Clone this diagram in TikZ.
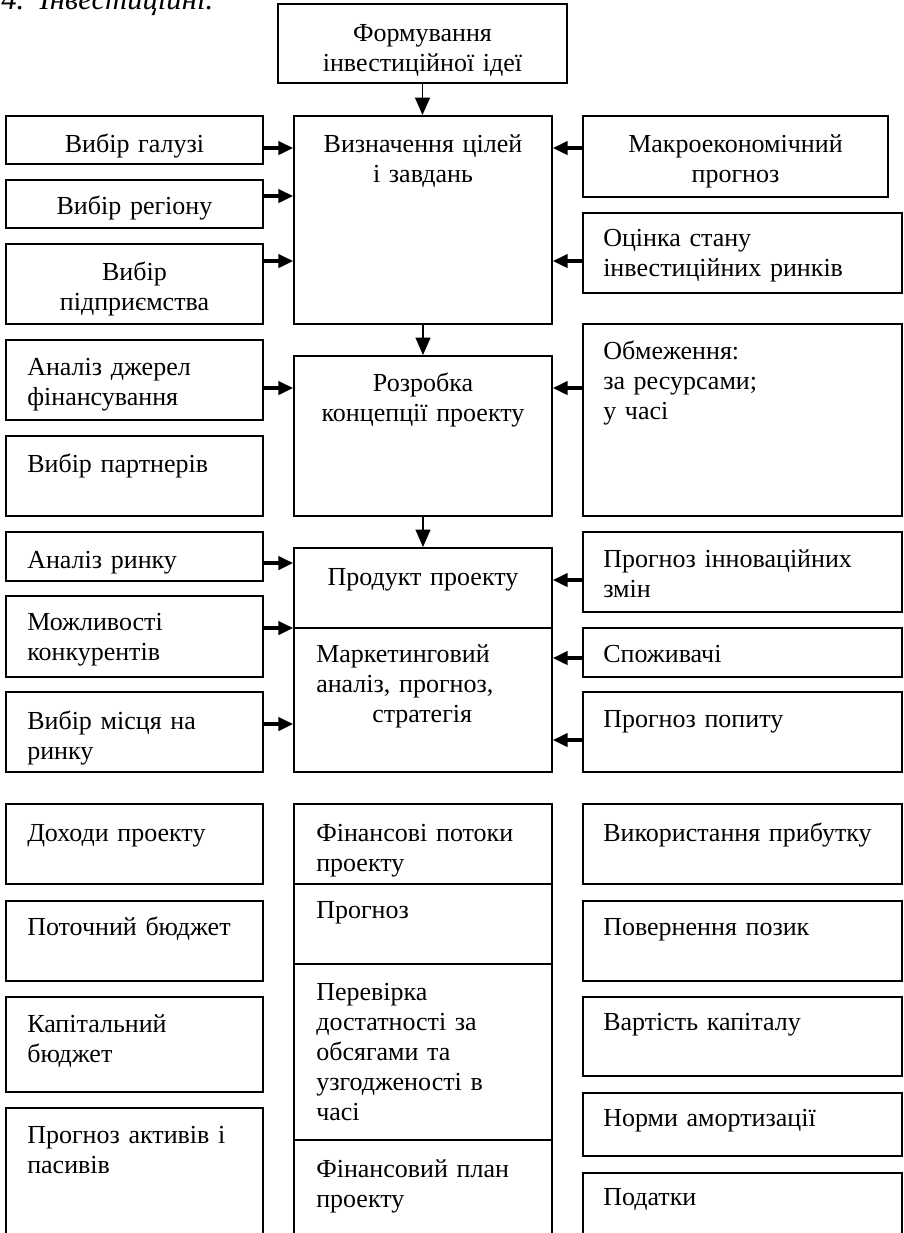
\documentclass[tikz,border=0pt]{standalone}
\usepackage{fontspec}
\setmainfont{Liberation Serif}
\usetikzlibrary{arrows.meta,fit,calc}
\begin{document}
\begin{tikzpicture}[x=0.75pt,y=-0.75pt,
  box/.style={draw, line width=1.4pt, inner sep=0pt},
  txt/.style={inner sep=0pt, font=\fontsize{19.5}{22.5}\selectfont, text width=330pt, align=left, anchor=base west},
  ctxt/.style={txt, align=center, anchor=base},
  harr/.style={line width=2.4pt, -{Triangle[length=11pt,width=10pt]}},
  varr/.style={line width=1.4pt, -{Triangle[length=13pt,width=11pt]}}]
\useasboundingbox (0,0) rectangle (904,1233);
\clip (0,0) rectangle (904,1233);

% heading (cut off at top, as in the reference)
\node[txt, font=\fontsize{23}{26}\selectfont\itshape] (head) at (1,9) {4. Інвестиційні.};

% ---------- boxes ----------
\node[box, fit={(278,4)(567,83)}] (idea) {};
\node[box, fit={(294,116)(552,324)}] (goals) {};
\node[box, fit={(6,116)(263,164)}] (galuzi) {};
\node[box, fit={(6,180)(263,228)}] (region) {};
\node[box, fit={(6,244)(263,324)}] (pidpr) {};
\node[box, fit={(583,116)(888,197)}] (macro) {};
\node[box, fit={(583,213)(902,293)}] (otsinka) {};

\node[box, fit={(294,356)(552,516)}] (concept) {};
\node[box, fit={(6,340)(263,420)}] (dzherel) {};
\node[box, fit={(6,436)(263,516)}] (partners) {};
\node[box, fit={(583,324)(902,516)}] (limits) {};

\node[box, fit={(294,548)(552,628)}] (product) {};
\node[box, fit={(294,628)(552,772)}] (marketing) {};
\node[box, fit={(6,532)(263,581)}] (market) {};
\node[box, fit={(6,596)(263,677)}] (rivals) {};
\node[box, fit={(6,692)(263,772)}] (place) {};
\node[box, fit={(583,532)(902,612)}] (innov) {};
\node[box, fit={(583,628)(902,677)}] (consumers) {};
\node[box, fit={(583,692)(902,772)}] (demand) {};

\node[box, fit={(6,804)(263,884)}] (income) {};
\node[box, fit={(6,901)(263,981)}] (curbudget) {};
\node[box, fit={(6,997)(263,1092)}] (capbudget) {};
\node[box, fit={(6,1108)(263,1250)}] (assets) {};
\node[box, fit={(294,804)(552,884)}] (flows) {};
\node[box, fit={(294,884)(552,964)}] (forecast) {};
\node[box, fit={(294,964)(552,1140)}] (check) {};
\node[box, fit={(294,1140)(552,1250)}] (finplan) {};
\node[box, fit={(583,804)(902,884)}] (profit) {};
\node[box, fit={(583,901)(902,981)}] (loans) {};
\node[box, fit={(583,997)(902,1076)}] (capcost) {};
\node[box, fit={(583,1093)(902,1156)}] (amort) {};
\node[box, fit={(583,1173)(902,1250)}] (taxes) {};

% ---------- texts ----------
\node[ctxt] (t-idea) at (422.5,41) {Формування\\інвестиційної ідеї};
\node[ctxt] (t-goals) at (423,152) {Визначення цілей\\і завдань};
\node[ctxt] (t-galuzi) at (134.5,152) {Вибір галузі};
\node[ctxt] (t-region) at (134.5,214) {Вибір регіону};
\node[ctxt] (t-pidpr) at (134.5,280) {Вибір\\підприємства};
\node[ctxt] (t-macro) at (735.5,152) {Макроекономічний\\прогноз};
\node[txt] (t-otsinka) at (603,246) {Оцінка стану\\інвестиційних ринків};

\node[ctxt] (t-concept) at (423,391) {Розробка\\концепції проекту};
\node[txt] (t-dzherel) at (27,375) {Аналіз джерел\\фінансування};
\node[txt] (t-partners) at (27,472) {Вибір партнерів};
\node[txt] (t-limits) at (603,359) {Обмеження:\\за ресурсами;\\у часі};

\node[ctxt] (t-product) at (423,585) {Продукт проекту};
\node[txt] (t-marketing) at (316,662) {Маркетинговий\\аналіз, прогноз,\\\hspace*{42pt}стратегія};
\node[txt] (t-market) at (27,568) {Аналіз ринку};
\node[txt] (t-rivals) at (27,630) {Можливості\\конкурентів};
\node[txt] (t-place) at (27,729) {Вибір місця на\\ринку};
\node[txt] (t-innov) at (603,567) {Прогноз інноваційних\\змін};
\node[txt] (t-consumers) at (603,662) {Споживачі};
\node[txt] (t-demand) at (603,727) {Прогноз попиту};

\node[txt] (t-income) at (27,841) {Доходи проекту};
\node[txt] (t-curbudget) at (27,935) {Поточний бюджет};
\node[txt] (t-capbudget) at (27,1032) {Капітальний\\бюджет};
\node[txt] (t-assets) at (27,1143) {Прогноз активів і\\пасивів};
\node[txt] (t-flows) at (316,841) {Фінансові потоки\\проекту};
\node[txt] (t-forecast) at (316,918) {Прогноз};
\node[txt] (t-check) at (316,1000) {Перевірка\\достатності за\\обсягами та\\узгодженості в\\часі};
\node[txt] (t-finplan) at (316,1177) {Фінансовий план\\проекту};
\node[txt] (t-profit) at (603,841) {Використання прибутку};
\node[txt] (t-loans) at (603,935) {Повернення позик};
\node[txt] (t-capcost) at (603,1030) {Вартість капіталу};
\node[txt] (t-amort) at (603,1126) {Норми амортизації};
\node[txt] (t-taxes) at (603,1205) {Податки};

% ---------- connectors ----------
\draw[varr] (idea.south) -- (idea.south |- goals.north);
\draw[varr] (goals.south) -- (concept.north);
\draw[varr] (concept.south) -- (product.north);

\draw[harr] (galuzi.east |- 0,148) -- (goals.west |- 0,148);
\draw[harr] (region.east |- 0,196) -- (goals.west |- 0,196);
\draw[harr] (pidpr.east |- 0,261) -- (goals.west |- 0,261);
\draw[harr] (macro.west |- 0,148) -- (goals.east |- 0,148);
\draw[harr] (otsinka.west |- 0,261) -- (goals.east |- 0,261);

\draw[harr] (dzherel.east |- 0,388) -- (concept.west |- 0,388);
\draw[harr] (limits.west |- 0,388) -- (concept.east |- 0,388);

\draw[harr] (market.east |- 0,563) -- (product.west |- 0,563);
\draw[harr] (rivals.east |- 0,628) -- (marketing.west |- 0,628);
\draw[harr] (place.east |- 0,724) -- (marketing.west |- 0,724);
\draw[harr] (innov.west |- 0,580) -- (product.east |- 0,580);
\draw[harr] (consumers.west |- 0,658) -- (marketing.east |- 0,658);
\draw[harr] (demand.west |- 0,740) -- (marketing.east |- 0,740);
\end{tikzpicture}
\end{document}
